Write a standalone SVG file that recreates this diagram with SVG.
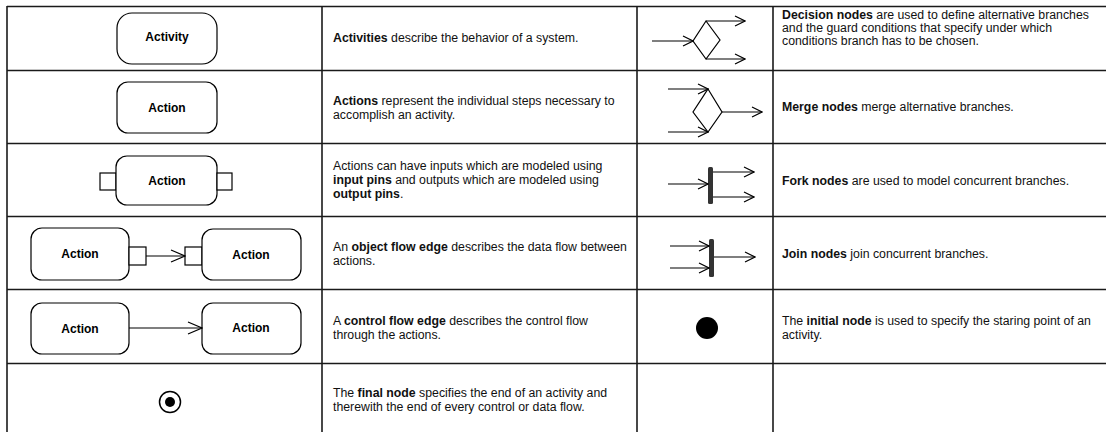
<svg xmlns="http://www.w3.org/2000/svg" width="1106" height="432" viewBox="0 0 1106 432">
  <style>
    .grid { stroke: #1a1a1a; stroke-width: 1.6; fill: none; }
    .box { fill: #ffffff; stroke: #000000; stroke-width: 1.2; }
    .pin { fill: #ffffff; stroke: #000000; stroke-width: 1.2; }
    .edge { stroke: #000000; stroke-width: 1.2; fill: none; }
    .lbl { font-family: "Liberation Sans", Arial, sans-serif; font-size: 12px; font-weight: bold; fill: #000; text-anchor: middle; }
    .txt { font-family: "Liberation Sans", Arial, sans-serif; font-size: 12.3px; fill: #111; }
    .b { font-weight: bold; }
    .bar { fill: #333333; }
  </style>
  <defs>
    <marker id="arrowLg" viewBox="0 0 16 14" refX="15" refY="7" markerWidth="16" markerHeight="14" markerUnits="userSpaceOnUse" orient="auto">
      <path d="M1,1 L15,7 L1,13" fill="none" stroke="#000" stroke-width="1.2"/>
    </marker>
    <marker id="arrowSm" viewBox="0 0 12 12" refX="11" refY="6" markerWidth="12" markerHeight="12" markerUnits="userSpaceOnUse" orient="auto">
      <path d="M1,1 L11,6 L1,11" fill="none" stroke="#000" stroke-width="1.2"/>
    </marker>
  </defs>

  <rect width="1106" height="432" fill="#ffffff"/>

  <!-- table grid -->
  <g id="grid" class="grid">
    <line x1="7" y1="6.5" x2="1106" y2="6.5"/>
    <line x1="7" y1="70.5" x2="1106" y2="70.5"/>
    <line x1="7" y1="143.5" x2="1106" y2="143.5"/>
    <line x1="7" y1="216.5" x2="1106" y2="216.5"/>
    <line x1="7" y1="289.5" x2="1106" y2="289.5"/>
    <line x1="7" y1="363.5" x2="1106" y2="363.5"/>
    <line x1="7" y1="6" x2="7" y2="432"/>
    <line x1="322" y1="6" x2="322" y2="432"/>
    <line x1="637" y1="6" x2="637" y2="432"/>
    <line x1="773" y1="6" x2="773" y2="432"/>
  </g>

  <!-- activity -->
  <g id="activity">
    <rect class="box" x="117" y="13" width="100" height="51" rx="15"/>
    <text class="lbl" x="167" y="41">Activity</text>
  </g>

  <!-- action -->
  <g id="action">
    <rect class="box" x="117" y="82" width="100" height="51" rx="11"/>
    <text class="lbl" x="167" y="112">Action</text>
  </g>

  <!-- action with pins -->
  <g id="action-pins">
    <rect class="pin" x="100" y="173" width="16" height="17"/>
    <rect class="box" x="116" y="156" width="101" height="49" rx="11"/>
    <rect class="pin" x="217" y="173" width="15" height="17"/>
    <text class="lbl" x="167" y="185">Action</text>
  </g>

  <!-- object flow -->
  <g id="objflow-src">
    <rect class="box" x="31" y="228" width="98" height="52" rx="11"/>
    <rect class="pin" x="129" y="247" width="17" height="18"/>
    <text class="lbl" x="80" y="258">Action</text>
  </g>
  <g id="objflow-dst">
    <rect class="pin" x="185" y="247" width="17" height="18"/>
    <rect class="box" x="202" y="229" width="99" height="51" rx="11"/>
    <text class="lbl" x="251" y="259">Action</text>
  </g>

  <!-- control flow -->
  <g id="ctrlflow-src">
    <rect class="box" x="31" y="303" width="98" height="51" rx="11"/>
    <text class="lbl" x="80" y="333">Action</text>
  </g>
  <g id="ctrlflow-dst">
    <rect class="box" x="202" y="303" width="99" height="51" rx="11"/>
    <text class="lbl" x="251" y="332">Action</text>
  </g>

  <!-- final node -->
  <g id="final-node">
    <circle cx="170" cy="402" r="10.5" fill="#fff" stroke="#000" stroke-width="1.5"/>
    <circle cx="170" cy="402" r="5" fill="#000"/>
  </g>

  <!-- decision node -->
  <g id="decision-node">
    <polygon points="706,21 720,40 706,59 693,41" fill="#fff" stroke="#000" stroke-width="1.2"/>
  </g>

  <!-- merge node -->
  <g id="merge-node">
    <polygon points="708,89 722,112 708,132 693,112" fill="#fff" stroke="#000" stroke-width="1.2"/>
  </g>

  <!-- fork / join bars -->
  <g id="fork-node">
    <rect class="bar" x="708" y="167" width="5" height="37" rx="1.5"/>
  </g>
  <g id="join-node">
    <rect class="bar" x="709" y="239" width="5" height="38" rx="1.5"/>
  </g>

  <!-- initial node -->
  <g id="initial-node">
    <circle cx="707" cy="328" r="11" fill="#000"/>
  </g>

  <!-- connectors -->
  <g id="connectors" class="edge">
    <line x1="146" y1="256" x2="185" y2="256" marker-end="url(#arrowLg)"/>
    <line x1="129" y1="328" x2="202" y2="328" marker-end="url(#arrowLg)"/>
    <line x1="652" y1="41" x2="693" y2="41" marker-end="url(#arrowSm)"/>
    <line x1="706" y1="21" x2="745" y2="21" marker-end="url(#arrowSm)"/>
    <line x1="706" y1="59" x2="745" y2="59" marker-end="url(#arrowSm)"/>
    <line x1="668" y1="89" x2="708" y2="89" marker-end="url(#arrowSm)"/>
    <line x1="668" y1="132" x2="708" y2="132" marker-end="url(#arrowSm)"/>
    <line x1="722" y1="112" x2="762" y2="112" marker-end="url(#arrowSm)"/>
    <line x1="668" y1="184" x2="708" y2="184" marker-end="url(#arrowSm)"/>
    <line x1="713" y1="172" x2="754" y2="172" marker-end="url(#arrowSm)"/>
    <line x1="713" y1="197" x2="754" y2="197" marker-end="url(#arrowSm)"/>
    <line x1="670" y1="246" x2="709" y2="246" marker-end="url(#arrowSm)"/>
    <line x1="670" y1="268" x2="709" y2="268" marker-end="url(#arrowSm)"/>
    <line x1="714" y1="257" x2="755" y2="257" marker-end="url(#arrowSm)"/>
  </g>

  <!-- descriptions -->
  <g id="descriptions" class="txt">
    <text x="333" y="42"><tspan class="b">Activities</tspan> describe the behavior of a system.</text>
    <text x="333" y="105"><tspan class="b">Actions</tspan> represent the individual steps necessary to</text>
    <text x="333" y="119">accomplish an activity.</text>
    <text x="333" y="170">Actions can have inputs which are modeled using</text>
    <text x="333" y="184"><tspan class="b">input pins</tspan> and outputs which are modeled using</text>
    <text x="333" y="198"><tspan class="b">output pins</tspan>.</text>
    <text x="333" y="251">An <tspan class="b">object flow edge</tspan> describes the data flow between</text>
    <text x="333" y="265">actions.</text>
    <text x="333" y="325">A <tspan class="b">control flow edge</tspan> describes the control flow</text>
    <text x="333" y="339">through the actions.</text>
    <text x="333" y="397">The <tspan class="b">final node</tspan> specifies the end of an activity and</text>
    <text x="333" y="411">therewith the end of every control or data flow.</text>
    <text x="782" y="19"><tspan class="b">Decision nodes</tspan> are used to define alternative branches</text>
    <text x="782" y="32">and the guard conditions that specify under which</text>
    <text x="782" y="45">conditions branch has to be chosen.</text>
    <text x="782" y="111"><tspan class="b">Merge nodes</tspan> merge alternative branches.</text>
    <text x="782" y="185"><tspan class="b">Fork nodes</tspan> are used to model concurrent branches.</text>
    <text x="782" y="258"><tspan class="b">Join nodes</tspan> join concurrent branches.</text>
    <text x="782" y="325">The <tspan class="b">initial node</tspan> is used to specify the staring point of an</text>
    <text x="782" y="339">activity.</text>
  </g>
</svg>
